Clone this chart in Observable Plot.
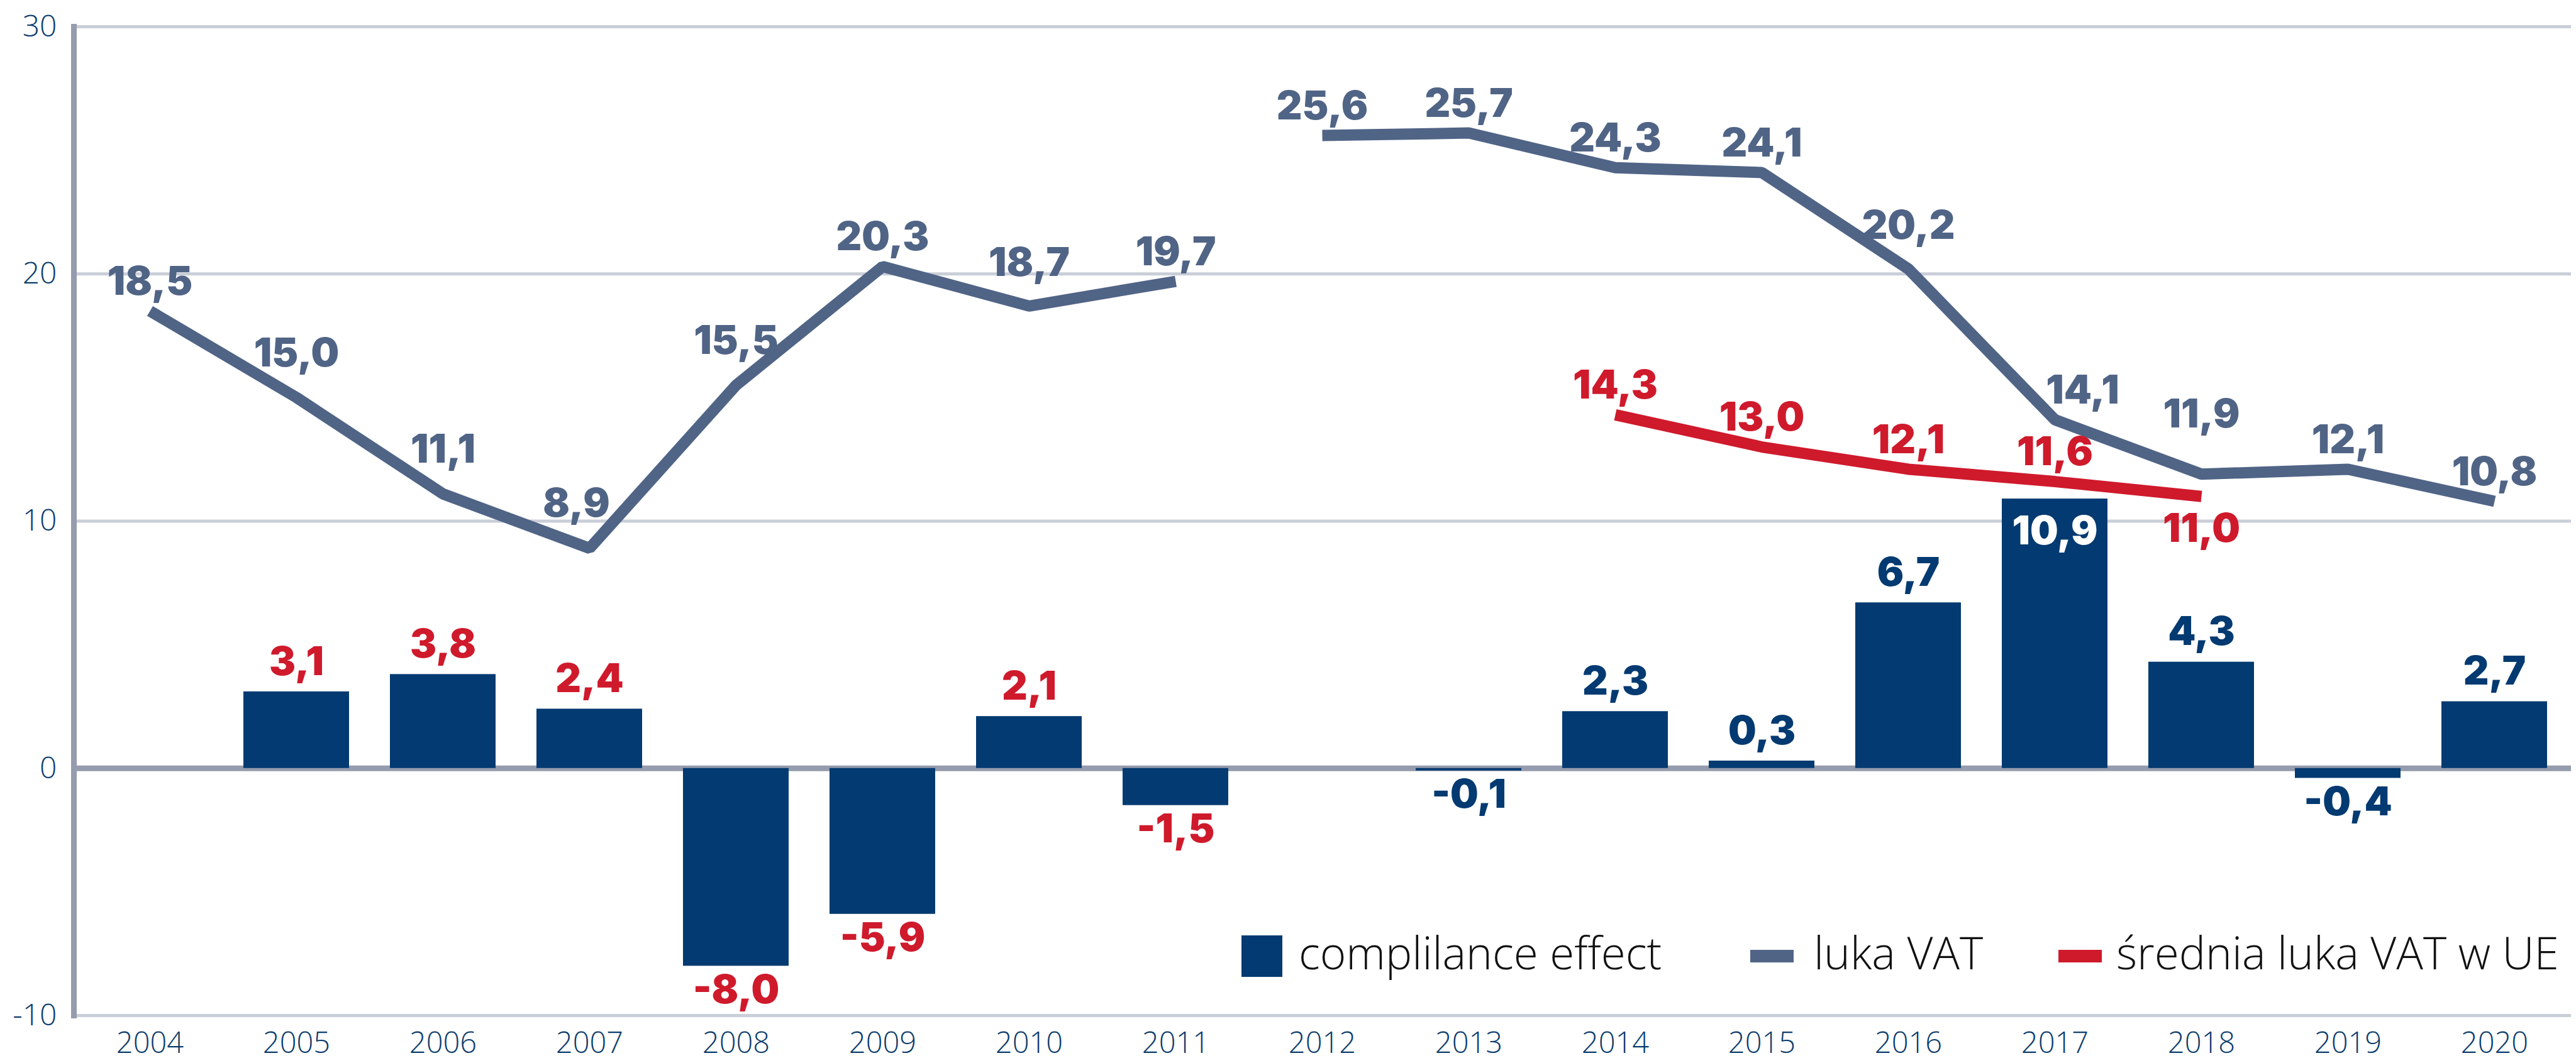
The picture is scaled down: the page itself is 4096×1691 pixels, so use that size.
<!DOCTYPE html>
<html><head><meta charset="utf-8">
<script src="https://cdn.jsdelivr.net/npm/d3@7"></script>
<script src="https://cdn.jsdelivr.net/npm/@observablehq/plot@0.6"></script>
<style>
html,body{margin:0;padding:0;background:#fff;}
#wrap{position:relative;width:4096px;height:1691px;overflow:hidden;background:#fff;}
.lg-sw{position:absolute;}
.lg-tx{position:absolute;font-family:'Open Sans',sans-serif;font-weight:300;font-size:71px;line-height:1;color:#111;white-space:nowrap;}
</style></head><body><div id="wrap"></div>
<script>
// ---- data ----
const years = [2004, 2005, 2006, 2007, 2008, 2009, 2010, 2011, 2012, 2013, 2014, 2015, 2016, 2017, 2018, 2019, 2020];
const lukaVat = [18.5, 15.0, 11.1, 8.9, 15.5, 20.3, 18.7, 19.7, 25.6, 25.7, 24.3, 24.1, 20.2, 14.1, 11.9, 12.1, 10.8];
const complianceEffect = [null, 3.1, 3.8, 2.4, -8.0, -5.9, 2.1, -1.5, null, -0.1, 2.3, 0.3, 6.7, 10.9, 4.3, -0.4, 2.7];
const euAvgYears = [2014, 2015, 2016, 2017, 2018];
const euAvgGap = [14.3, 13.0, 12.1, 11.6, 11.0];
const yTicks = [-10, 0, 10, 20, 30];
const seriesNames = ["complilance effect", "luka VAT", "średnia luka VAT w UE"];
const methodBreakYear = 2012;

// ---- styles ----
const W = 4096, H = 1691;
const NAVY = "#033a71", SLATE = "#506486", RED = "#cf1a2c", GRID = "#c9ced8", AXIS = "#959cad", TICK = "#0b3c6e";
const LABEL_FONT = "Inter, 'Open Sans', sans-serif";
const TICK_FONT = "'Open Sans', sans-serif";
const LBL = {fontSize: 63, fontWeight: 900, fontFamily: LABEL_FONT};

const fmt = v => d3.format(".1f")(v).replace(".", ",").replace("\u2212", "-");

const vat = years.map((year, i) => ({year, value: lukaVat[i], period: year < methodBreakYear ? "a" : "b"}));
const bars = years.map((year, i) => ({year, value: complianceEffect[i]})).filter(d => d.value != null);
const eu = euAvgYears.map((year, i) => ({year, value: euAvgGap[i]}));

// label placement tweaks (pixels)
const vatLift = {2005: 70, 2006: 70, 2007: 70, 2008: 70, 2010: 68, 2016: 68, 2018: 94};
const vatShift = {2007: -21, 2017: 44};

const vatLabels = vat.map(d => Plot.text([d], {
  x: "year", y: "value", text: d => fmt(d.value),
  dy: -(vatLift[d.year] ?? 46), dx: vatShift[d.year] ?? 0, fill: SLATE, ...LBL
}));
const euLabels = eu.map((d, i) => Plot.text([d], {
  x: "year", y: "value", text: d => fmt(d.value),
  dy: i === eu.length - 1 ? 52 : -46, fill: RED, ...LBL
}));
const barLabel = (filter, dy, fill) => Plot.text(bars.filter(filter), {
  x: "year", y: "value", text: d => fmt(d.value), dy, fill, ...LBL
});

const chart = Plot.plot({
  width: W, height: H,
  marginTop: 42, marginBottom: 76, marginLeft: 117, marginRight: 8,
  style: {fontFamily: TICK_FONT, background: "white", overflow: "visible"},
  x: {type: "band", domain: years, paddingInner: 0.278, paddingOuter: 0.139, axis: null, label: null},
  y: {domain: [-10, 30], axis: null, label: null},
  marks: [
    Plot.gridY(yTicks.filter(t => t !== 0), {stroke: GRID, strokeOpacity: 1, strokeWidth: 5}),
    Plot.ruleY([0], {stroke: AXIS, strokeWidth: 9}),
    Plot.barY(bars, {x: "year", y: "value", fill: NAVY}),
    Plot.frame({anchor: "left", stroke: AXIS, strokeWidth: 9}),
    Plot.line(vat, {x: "year", y: "value", z: "period", stroke: SLATE, strokeWidth: 18, strokeLinejoin: "miter", strokeLinecap: "butt"}),
    Plot.line(eu, {x: "year", y: "value", stroke: RED, strokeWidth: 18, strokeLinejoin: "miter", strokeLinecap: "butt"}),
    ...vatLabels,
    ...euLabels,
    barLabel(d => d.year < methodBreakYear && d.value > 0, -47, RED),
    barLabel(d => d.year < methodBreakYear && d.value < 0, 39, RED),
    barLabel(d => d.year >= methodBreakYear && d.value > 0 && d.value <= 10, -47, NAVY),
    barLabel(d => d.year >= methodBreakYear && d.value < 0, 39, NAVY),
    barLabel(d => d.value > 10, 52, "white"),
    Plot.axisY(yTicks, {tickSize: 0, tickPadding: 27, fontSize: 48, fontWeight: 300, fill: TICK, label: null, tickFormat: d => String(d)}),
    Plot.axisX({tickSize: 0, tickPadding: 26, fontSize: 47, fontWeight: 300, fill: TICK, label: null, tickFormat: d => String(d)})
  ]
});

const wrap = document.getElementById("wrap");
wrap.appendChild(chart);

// ---- legend (overlaid at bottom right of the plot area) ----
const legendItems = [
  {name: seriesNames[0], color: NAVY, sw: {left: 1974, top: 1488, w: 65, h: 66}, tx: 2065},
  {name: seriesNames[1], color: SLATE, sw: {left: 2783, top: 1511, w: 69, h: 20}, tx: 2884},
  {name: seriesNames[2], color: RED, sw: {left: 3273, top: 1511, w: 69, h: 20}, tx: 3365}
];
for (const it of legendItems) {
  const s = document.createElement("div");
  s.className = "lg-sw";
  Object.assign(s.style, {left: it.sw.left + "px", top: it.sw.top + "px", width: it.sw.w + "px", height: it.sw.h + "px", background: it.color});
  wrap.appendChild(s);
  const t = document.createElement("div");
  t.className = "lg-tx";
  t.textContent = it.name;
  Object.assign(t.style, {left: it.tx + "px", top: "1479px"});
  wrap.appendChild(t);
}
</script></body></html>
